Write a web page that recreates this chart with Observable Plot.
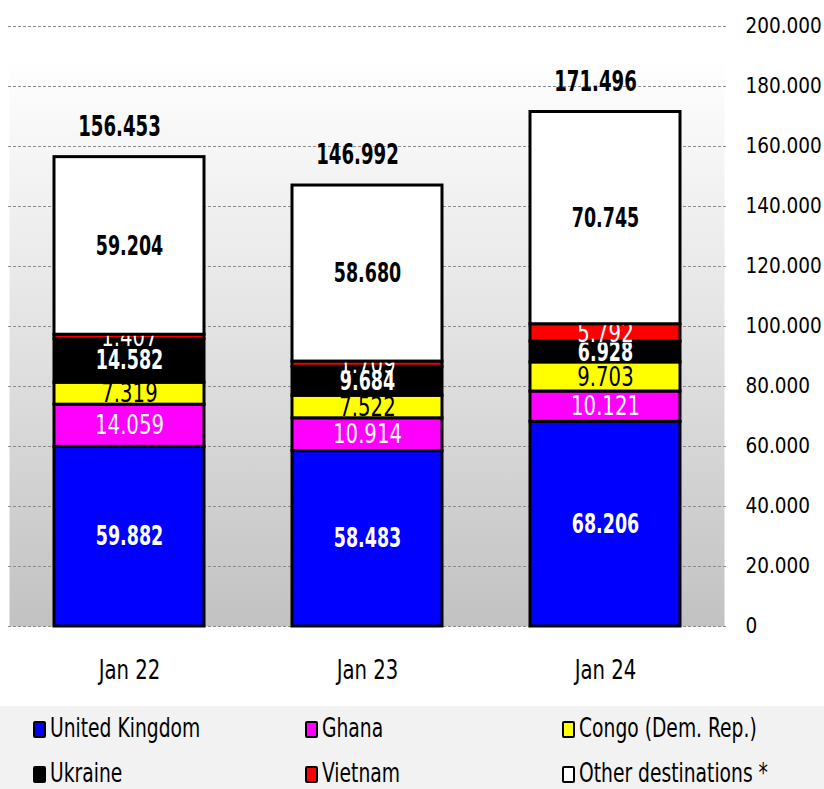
<!DOCTYPE html>
<html>
<head>
<meta charset="utf-8">
<script src="https://cdn.jsdelivr.net/npm/d3@7"></script>
<script src="https://cdn.jsdelivr.net/npm/@observablehq/plot@0.6"></script>
<style>
  body { margin: 0; background: #fff; font-family: "DejaVu Sans Condensed", "DejaVu Sans", sans-serif; font-stretch: condensed; }
  #legend { position: absolute; left: 0; top: 706px; width: 824px; height: 83px; background: #f2f2f2; }
  .item { position: absolute; height: 30px; }
  .sw { position: absolute; left: 0; top: 6px; width: 9px; height: 13px; border: 2px solid #000; border-radius: 2px; }
  .lt { position: absolute; top: -2px; font-size: 26px; color: #000; white-space: nowrap; transform: scaleX(0.8); transform-origin: 0 50%; }
</style>
</head>
<body>
<div id="chart"></div>
<div id="legend"></div>
<script>
const periods = ["Jan 22", "Jan 23", "Jan 24"];
const seriesNames = ["United Kingdom", "Ghana", "Congo (Dem. Rep.)", "Ukraine", "Vietnam", "Other destinations *"];
const seriesColors = ["#0000ff", "#ff00ff", "#ffff00", "#000000", "#ff0000", "#ffffff"];
const unitedKingdom = [59882, 58483, 68206];
const ghana = [14059, 10914, 10121];
const congo = [7319, 7522, 9703];
const ukraine = [14582, 9684, 6928];
const vietnam = [1407, 1709, 5792];
const otherDest = [59204, 58680, 70745];
const totals = [156453, 146992, 171496];
const yTicks = [0, 20000, 40000, 60000, 80000, 100000, 120000, 140000, 160000, 180000, 200000];

const seriesValues = [unitedKingdom, ghana, congo, ukraine, vietnam, otherDest];
const labelFill = ["#fff", "#fff", "#000", "#fff", "#fff", "#000"];
const labelWeight = ["bold", "normal", "normal", "bold", "normal", "bold"];

const fmt = v => d3.format(",.0f")(v).replace(/,/g, ".");

const rows = [];
periods.forEach((p, i) => {
  let base = 0;
  seriesValues.forEach((vals, s) => {
    const v = vals[i];
    rows.push({period: p, s, value: v, y1: base, y2: base + v, mid: base + v / 2});
    base += v;
  });
});
const totalRows = periods.map((p, i) => ({period: p, total: totals[i], top: rows.filter(r => r.period === p).reduce((a, r) => Math.max(a, r.y2), 0)}));

const font = '"DejaVu Sans Condensed", "DejaVu Sans", sans-serif';

const seriesMarks = [];
seriesNames.forEach((name, s) => {
  const sub = rows.filter(r => r.s === s);
  seriesMarks.push(Plot.rectY(sub, {x: "period", y1: "y1", y2: "y2", fill: seriesColors[s], stroke: "#000", strokeWidth: 3}));
  seriesMarks.push(Plot.text(sub, {x: "period", y: "mid", text: d => fmt(d.value), fill: labelFill[s], fontWeight: labelWeight[s], fontSize: 27}));
});

const chart = Plot.plot({
  width: 824,
  height: 705,
  marginLeft: 9,
  marginRight: 100,
  marginTop: 26,
  marginBottom: 79,
  style: {fontFamily: font, background: "transparent"},
  x: {domain: periods, paddingInner: 0.37, paddingOuter: 0.185, label: null},
  y: {domain: [0, 200000], label: null, axis: null},
  marks: [
    Plot.frame({fill: "url(#bggrad)", insetTop: 31}),
    Plot.ruleY(yTicks, {stroke: "#8c8c8c", strokeDasharray: "3,2", strokeWidth: 1, insetLeft: -1, insetRight: -4}),
    ...seriesMarks,
    Plot.text(totalRows, {x: "period", y: "top", text: d => fmt(d.total), dy: -30, dx: -10, fontWeight: "bold", fontSize: 28, fill: "#000"}),
    Plot.text(yTicks, {y: d => d, text: d => fmt(d), frameAnchor: "right", textAnchor: "start", dx: 21, fontSize: 20.5, fill: "#000", className: "ytick"}),
    Plot.axisX({tickSize: 0, tickPadding: 33, fontSize: 27, fill: "#000", label: null})
  ]
});

const ns = "http://www.w3.org/2000/svg";
const defs = document.createElementNS(ns, "defs");
defs.innerHTML = '<linearGradient id="bggrad" x1="0" y1="0" x2="0" y2="1"><stop offset="0" stop-color="#ffffff"/><stop offset="0.35" stop-color="#ebebeb"/><stop offset="1" stop-color="#c2c2c2"/></linearGradient>';
chart.insertBefore(defs, chart.firstChild);
document.getElementById("chart").appendChild(chart);

// condense text horizontally to mimic the narrow original typeface (tick labels keep natural width)
chart.querySelectorAll("text").forEach(t => {
  if (t.closest(".ytick")) return;
  const bold = t.closest('[font-weight="bold"]') || t.getAttribute("font-weight") === "bold";
  const k = bold ? 0.72 : 0.81;
  const len = t.getComputedTextLength();
  if (len > 0) {
    t.setAttribute("textLength", (len * k).toFixed(1));
    t.setAttribute("lengthAdjust", "spacingAndGlyphs");
  }
});

const legendPos = [[33, 730], [305, 730], [562, 730], [33, 775], [305, 775], [562, 775]];
const legend = document.getElementById("legend");
seriesNames.forEach((name, s) => {
  const it = document.createElement("div");
  it.className = "item";
  it.style.left = legendPos[s][0] + "px";
  it.style.top = (legendPos[s][1] - 706 - 15) + "px";
  it.innerHTML = `<span class="sw" style="background:${seriesColors[s]}"></span><span class="lt" style="left:17px">${name}</span>`;
  legend.appendChild(it);
});
</script>
</body>
</html>
